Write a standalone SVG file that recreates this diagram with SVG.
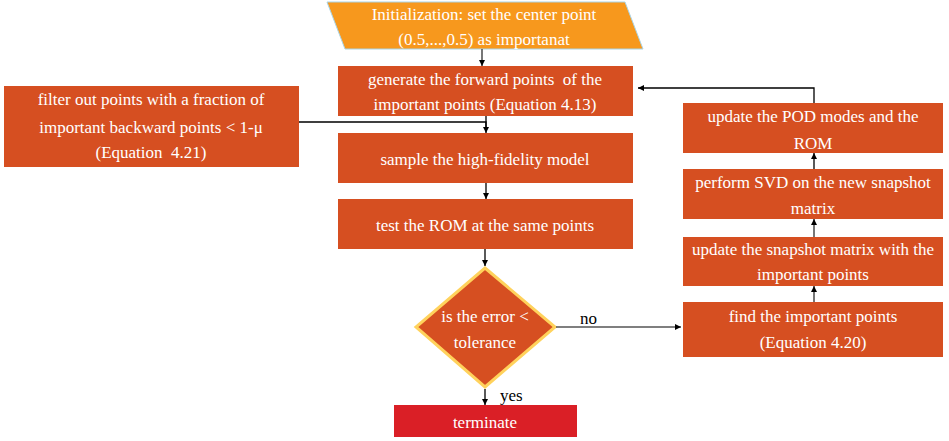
<svg xmlns="http://www.w3.org/2000/svg" width="949" height="441" viewBox="0 0 949 441">
<defs>
<style>
.box{fill:#D64F21}
.t{font-family:"Liberation Serif",serif;font-size:17px;fill:#FFFFFF;text-anchor:middle;white-space:pre}
.lbl{font-family:"Liberation Serif",serif;font-size:17px;fill:#000000}
.ln{stroke:#000;stroke-width:1.3;fill:none}
.lg{stroke:#555;stroke-width:1.6;fill:none}
</style>
<marker id="ah" viewBox="0 0 10 10" refX="10" refY="5" markerWidth="6" markerHeight="6" markerUnits="userSpaceOnUse" orient="auto"><path d="M0,0L10,5L0,10z" fill="#000"/></marker>
</defs>
<rect width="949" height="441" fill="#FFFFFF"/>
<g id="init">
<polygon points="327,2 625,2 643,49 345,49" fill="#F7981D" stroke="#A9D4E6" stroke-width="1"/>
<text class="t" x="484" y="20">Initialization: set the center point</text>
<text class="t" x="484" y="45">(0.5,...,0.5) as importanat</text>
</g>
<g id="generate">
<rect class="box" x="338" y="66" width="295" height="50"/>
<text class="t" x="485" y="85" xml:space="preserve">generate the forward points  of the</text>
<text class="t" x="485" y="110">important points (Equation 4.13)</text>
</g>
<g id="filter">
<rect class="box" x="4" y="86" width="295" height="81"/>
<text class="t" x="151" y="105">filter out points with a fraction of</text>
<text class="t" x="151" y="133">important backward points &lt; 1-μ</text>
<text class="t" x="151" y="158" xml:space="preserve">(Equation  4.21)</text>
</g>
<g id="sample">
<rect class="box" x="338" y="133" width="295" height="50"/>
<text class="t" x="485" y="165">sample the high-fidelity model</text>
</g>
<g id="test">
<rect class="box" x="338" y="199" width="295" height="50"/>
<text class="t" x="485" y="231">test the ROM at the same points</text>
</g>
<g id="decision">
<polygon points="485,268 555,327 485,387 416,327" fill="#D64F21" stroke="#FFD25C" stroke-width="3"/>
<text class="t" x="485" y="322">is the error &lt;</text>
<text class="t" x="485" y="348">tolerance</text>
</g>
<g id="terminate">
<rect x="394" y="405" width="183" height="32" fill="#DA1F26"/>
<text class="t" x="485" y="428">terminate</text>
</g>
<g id="podrom">
<rect class="box" x="683" y="103" width="260" height="50"/>
<text class="t" x="813" y="122">update the POD modes and the</text>
<text class="t" x="813" y="149">ROM</text>
</g>
<g id="svd">
<rect class="box" x="683" y="169" width="260" height="50"/>
<text class="t" x="813" y="188">perform SVD on the new snapshot</text>
<text class="t" x="813" y="214">matrix</text>
</g>
<g id="snapshot">
<rect class="box" x="683" y="237" width="260" height="49"/>
<text class="t" x="813" y="255">update the snapshot matrix with the</text>
<text class="t" x="813" y="280">important points</text>
</g>
<g id="find">
<rect class="box" x="683" y="302" width="260" height="55"/>
<text class="t" x="813" y="322">find the important points</text>
<text class="t" x="813" y="348">(Equation 4.20)</text>
</g>
<g id="connectors">
<line class="lg" x1="482" y1="49" x2="482" y2="66" marker-end="url(#ah)"/>
<line class="ln" x1="486" y1="116" x2="486" y2="133" marker-end="url(#ah)"/>
<polyline class="ln" points="299,122 486,122 486,130"/>
<line class="ln" x1="486" y1="183" x2="486" y2="199" marker-end="url(#ah)"/>
<line class="ln" x1="485" y1="249" x2="485" y2="266" marker-end="url(#ah)"/>
<line class="ln" x1="485" y1="389" x2="485" y2="405" marker-end="url(#ah)"/>
<line class="lg" x1="556" y1="327" x2="681" y2="327" marker-end="url(#ah)"/>
<line class="lg" x1="814" y1="302" x2="814" y2="286" marker-end="url(#ah)"/>
<line class="lg" x1="814" y1="237" x2="814" y2="219" marker-end="url(#ah)"/>
<line class="ln" x1="814" y1="169" x2="814" y2="153" marker-end="url(#ah)"/>
<polyline class="ln" points="814,103 814,88 638,88" marker-end="url(#ah)"/>
<text class="lbl" x="500" y="401">yes</text>
<text class="lbl" x="580" y="324">no</text>
</g>
</svg>
